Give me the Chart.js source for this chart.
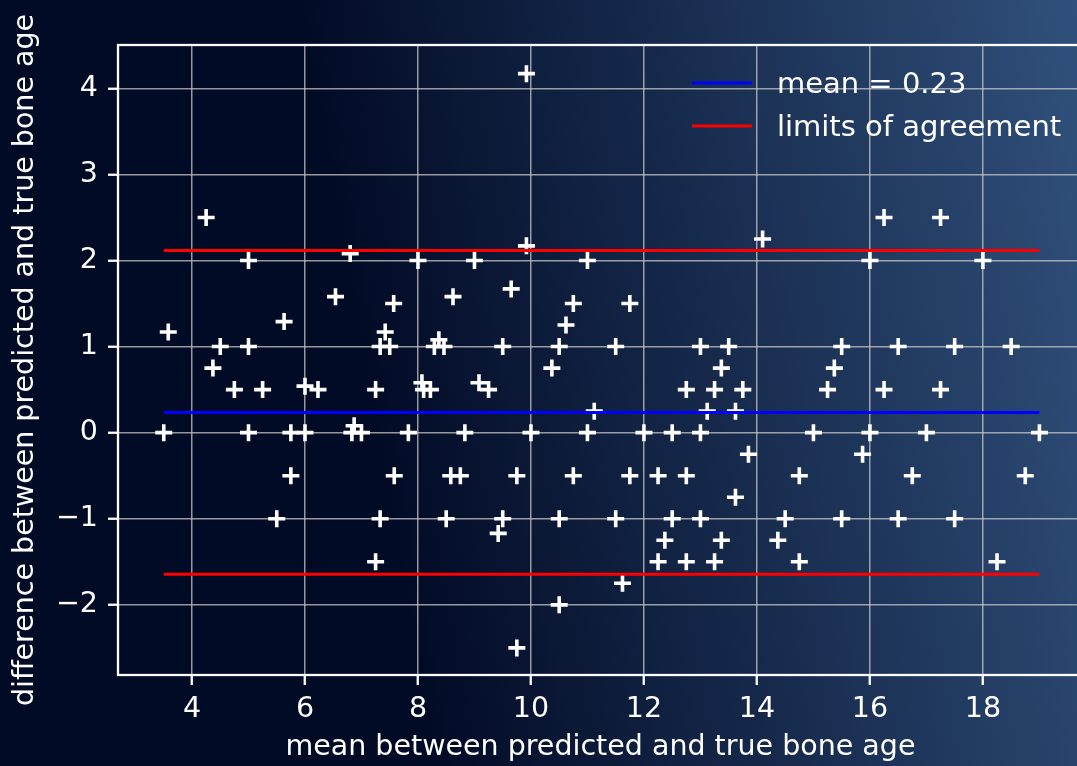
<!DOCTYPE html>
<html>
<head>
<meta charset="utf-8">
<script src="https://cdn.jsdelivr.net/npm/chart.js@4.4.1/dist/chart.umd.min.js"></script>
<style>
  html, body {
    margin: 0;
    padding: 0;
    width: 1077px;
    height: 766px;
    overflow: hidden;
    background: linear-gradient(80deg, #020b26 0%, #020b26 36%, #30507b 100%);
  }
  #blandAltman { display: block; }
</style>
</head>
<body>
<canvas id="blandAltman" width="1095" height="766"></canvas>
<script>
// mean of predicted and true bone age (x) and their difference (y)
const meanAge = [
  3.5, 3.58, 4.25, 4.37, 4.5, 4.75, 5, 5, 5, 5.25,
  5.5, 5.63, 5.75, 5.75, 6, 6, 6.23, 6.54, 6.8, 6.87,
  6.83, 7, 7.25, 7.25, 7.33, 7.33, 7.42, 7.5, 7.57, 7.58,
  7.83, 8, 8.07, 8.1, 8.22, 8.29, 8.37, 8.46, 8.5, 8.58,
  8.62, 8.75, 8.83, 9, 9.08, 9.25, 9.42, 9.5, 9.5, 9.65,
  9.75, 9.75, 9.92, 9.92, 10, 10.37, 10.5, 10.5, 10.5, 10.62,
  10.75, 10.75, 11, 11, 11.12, 11.5, 11.5, 11.62, 11.75, 11.75,
  12, 12.25, 12.25, 12.37, 12.5, 12.5, 12.75, 12.75, 12.75, 13,
  13, 13, 13.12, 13.25, 13.25, 13.37, 13.37, 13.5, 13.62, 13.62,
  13.75, 13.85, 14.1, 14.37, 14.5, 14.75, 14.75, 15, 15.25, 15.37,
  15.5, 15.5, 15.87, 16, 16, 16.25, 16.25, 16.5, 16.5, 16.75,
  17, 17.25, 17.25, 17.5, 17.5, 18, 18.25, 18.5, 18.75, 19
];
const diffAge = [
  0, 1.17, 2.5, 0.75, 1, 0.5, 2, 1, 0, 0.5,
  -1, 1.29, 0, -0.5, 0.54, 0, 0.5, 1.58, 2.08, 0.08,
  0, 0, 0.5, -1.5, -1, 1, 1.17, 1, 1.5, -0.5,
  0, 2, 0.58, 0.5, 0.5, 1, 1.08, 1, -1, -0.5,
  1.58, -0.5, 0, 2, 0.58, 0.5, -1.17, 1, -1, 1.67,
  -0.5, -2.5, 4.17, 2.17, 0, 0.75, 1, -1, -2, 1.25,
  1.5, -0.5, 2, 0, 0.25, 1, -1, -1.75, 1.5, -0.5,
  0, -0.5, -1.5, -1.25, 0, -1, 0.5, -0.5, -1.5, 1,
  0, -1, 0.25, 0.5, -1.5, 0.75, -1.25, 1, 0.25, -0.75,
  0.5, -0.25, 2.25, -1.25, -1, -0.5, -1.5, 0, 0.5, 0.75,
  1, -1, -0.25, 2, 0, 2.5, 0.5, 1, -1, -0.5,
  0, 2.5, 0.5, 1, -1, 2, -1.5, 1, -0.5, 0
];

const meanDiff = 0.235;
const upperLimit = 2.115;
const lowerLimit = -1.645;
const lineSpan = [3.5, 19];

const xTicks = [4, 6, 8, 10, 12, 14, 16, 18];
const yTicks = [-2, -1, 0, 1, 2, 3, 4];

const points = meanAge.map((m, i) => ({x: m, y: diffAge[i]}));
const hline = (v) => lineSpan.map(x => ({x: x, y: v}));

const FONT = "'DejaVu Sans', 'Liberation Sans', sans-serif";

// box round the plot plus the legend in its top right corner
const frameAndLegend = {
  id: 'frameAndLegend',
  afterDraw(chart) {
    const {ctx, chartArea} = chart;
    ctx.save();
    ctx.strokeStyle = '#ffffff';
    ctx.lineWidth = 2.3;
    ctx.strokeRect(chartArea.left, chartArea.top, chartArea.right - chartArea.left, chartArea.bottom - chartArea.top);

    const items = chart.data.datasets.filter(d => d.legendText);
    let y = chartArea.top + 38;
    const x0 = chartArea.right - 391;
    ctx.font = '29px ' + FONT;
    ctx.textBaseline = 'middle';
    ctx.fillStyle = '#ffffff';
    items.forEach(d => {
      ctx.strokeStyle = d.borderColor;
      ctx.lineWidth = 3;
      ctx.beginPath();
      ctx.moveTo(x0, y);
      ctx.lineTo(x0 + 60, y);
      ctx.stroke();
      ctx.fillText(d.legendText, x0 + 85, y + 2);
      y += 43;
    });
    ctx.restore();
  }
};

const setTicks = (values) => (scale) => {
  scale.ticks = values.map(v => ({value: v}));
};

const config = {
  data: {
    datasets: [
      {
        type: 'line',
        legendText: 'mean = 0.23',
        data: hline(meanDiff),
        borderColor: '#0000ff',
        borderWidth: 3,
        pointRadius: 0,
        order: 0
      },
      {
        type: 'line',
        legendText: 'limits of agreement',
        data: hline(upperLimit),
        borderColor: '#ff0000',
        borderWidth: 3,
        pointRadius: 0,
        order: 0
      },
      {
        type: 'line',
        data: hline(lowerLimit),
        borderColor: '#ff0000',
        borderWidth: 3,
        pointRadius: 0,
        order: 0
      },
      {
        type: 'scatter',
        data: points,
        pointStyle: 'cross',
        pointRadius: 8.5,
        borderWidth: 3.6,
        pointBorderWidth: 3.6,
        borderColor: '#ffffff',
        backgroundColor: '#ffffff',
        order: 1
      }
    ]
  },
  options: {
    responsive: false,
    animation: false,
    devicePixelRatio: 1,
    layout: {
      padding: {top: 45, right: 6, left: 0, bottom: 0}
    },
    plugins: {
      legend: {display: false},
      tooltip: {enabled: false}
    },
    scales: {
      x: {
        type: 'linear',
        min: 2.69,
        max: 19.77,
        afterBuildTicks: setTicks(xTicks),
        afterFit(scale) { scale.height = 91; },
        border: {display: false},
        grid: {
          color: 'rgba(200,200,200,0.75)',
          lineWidth: 1.5,
          tickLength: 10,
          tickColor: '#ffffff',
          tickWidth: 2.3
        },
        ticks: {
          color: '#ffffff',
          padding: 7,
          maxRotation: 0,
          font: {family: FONT, size: 28.5}
        },
        title: {
          display: true,
          text: 'mean between predicted and true bone age',
          color: '#ffffff',
          padding: {top: 0, bottom: 1},
          font: {family: FONT, size: 28.5}
        }
      },
      y: {
        type: 'linear',
        min: -2.815,
        max: 4.503,
        afterBuildTicks: setTicks(yTicks),
        afterFit(scale) { scale.width = 118; },
        border: {display: false},
        grid: {
          color: 'rgba(200,200,200,0.75)',
          lineWidth: 1.5,
          tickLength: 10,
          tickColor: '#ffffff',
          tickWidth: 2.3
        },
        ticks: {
          color: '#ffffff',
          padding: 10,
          font: {family: FONT, size: 28.5},
          callback: (v) => (v < 0 ? '\u2212' + Math.abs(v) : String(v))
        },
        title: {
          display: true,
          text: 'difference between predicted and true bone age',
          color: '#ffffff',
          padding: {top: 8, bottom: 0},
          font: {family: FONT, size: 28.5}
        }
      }
    }
  },
  plugins: [frameAndLegend]
};

const myChart = new Chart(document.getElementById('blandAltman'), config);
</script>
</body>
</html>
